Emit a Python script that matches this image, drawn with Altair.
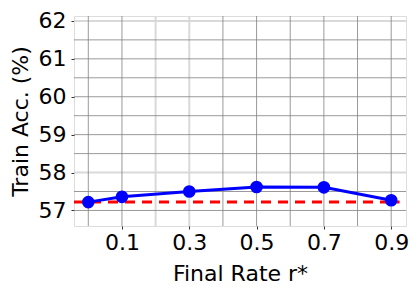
import altair as alt
import pandas as pd

rates = [0.0, 0.1, 0.3, 0.5, 0.7, 0.9]
train_acc = [57.22, 57.36, 57.50, 57.62, 57.61, 57.27]
baseline_acc = 57.22
baseline_x = [-0.0425, 0.925]

x_ticks = [0.1, 0.3, 0.5, 0.7, 0.9]
y_ticks = [57, 58, 59, 60, 61, 62]
x_dark_grid = [0.0, 0.1, 0.4, 0.5, 0.6, 0.7, 0.8, 0.9]
x_light_grid = [0.2, 0.3]
y_dark_grid = [57, 57.5, 58.5, 59, 59.5, 60, 60.5, 61, 61.5]
y_light_grid = [58, 62]

XDOM = [-0.0425, 0.944]
YDOM = [56.59, 62.13]
FONT = "DejaVu Sans"

xs = alt.Scale(domain=XDOM, nice=False, zero=False)
ys = alt.Scale(domain=YDOM, nice=False, zero=False)

df = pd.DataFrame({"r": rates, "acc": train_acc})
base_df = pd.DataFrame({"x": [baseline_x[0]], "x2": [baseline_x[1]], "y": [baseline_acc]})

xaxis = alt.Axis(values=x_ticks, format=".1f", title="Final Rate r*", labelPadding=3, titlePadding=10)
yaxis = alt.Axis(values=y_ticks, format="d", title="Train Acc. (%)", labelPadding=5, titlePadding=6)

light_v = alt.Chart(pd.DataFrame({"x": x_light_grid})).mark_rule(color="#d9d9d9", strokeWidth=2).encode(
    x=alt.X("x:Q", scale=xs, axis=xaxis))
light_h = alt.Chart(pd.DataFrame({"y": y_light_grid})).mark_rule(color="#d9d9d9", strokeWidth=2).encode(
    y=alt.Y("y:Q", scale=ys, axis=yaxis))
dark_v = alt.Chart(pd.DataFrame({"x": x_dark_grid})).mark_rule(color="#808080", strokeWidth=0.8).encode(
    x=alt.X("x:Q", scale=xs, axis=xaxis))
dark_h = alt.Chart(pd.DataFrame({"y": y_dark_grid})).mark_rule(color="#808080", strokeWidth=0.8).encode(
    y=alt.Y("y:Q", scale=ys, axis=yaxis))

red = alt.Chart(base_df).mark_rule(color="#ff0000", strokeWidth=3, strokeDash=[10, 7]).encode(
    x=alt.X("x:Q", scale=xs, axis=xaxis), x2="x2:Q", y=alt.Y("y:Q", scale=ys, axis=yaxis))

line = alt.Chart(df).mark_line(color="#0000ff", strokeWidth=3).encode(
    x=alt.X("r:Q", scale=xs, axis=xaxis), y=alt.Y("acc:Q", scale=ys, axis=yaxis))
pts = alt.Chart(df).mark_circle(color="#0000ff", size=160, opacity=1).encode(
    x=alt.X("r:Q", scale=xs, axis=xaxis), y=alt.Y("acc:Q", scale=ys, axis=yaxis))

chart = alt.layer(light_v, light_h, dark_v, dark_h, red, line, pts).properties(
    width=332, height=210,
    autosize=alt.AutoSizeParams(type="none"),
    padding={"left": 66, "top": 8, "right": 6, "bottom": 66},
).configure_view(stroke="#444", strokeWidth=1).configure(background="white").configure_axis(
    grid=False, domain=False,
    labelFontSize=22, titleFontSize=22, labelFont=FONT, titleFont=FONT,
    labelColor="black", titleColor="black", titleFontWeight="normal",
    tickSize=3, tickColor="#333",
)

chart.save("out.html", embed_options={"renderer": "svg", "actions": False})
